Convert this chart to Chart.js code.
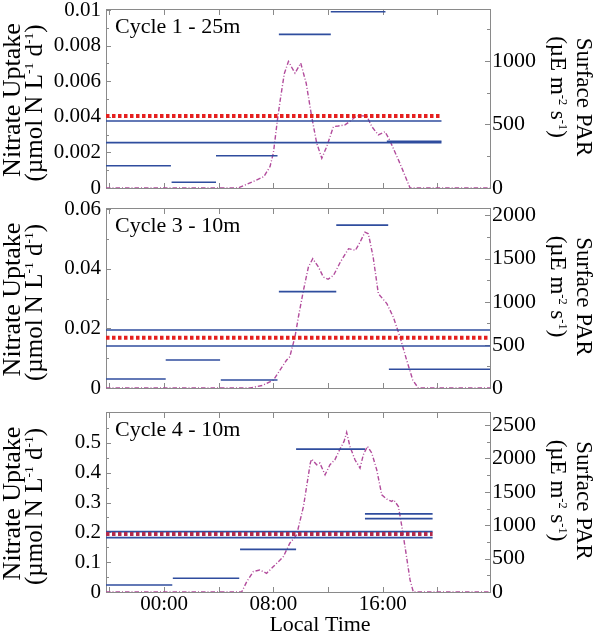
<!DOCTYPE html>
<html>
<head>
<meta charset="utf-8">
<script src="https://cdn.jsdelivr.net/npm/chart.js@4/dist/chart.umd.min.js"></script>
<style>
body { margin: 0; background: #fff; }
#wrap { position: relative; width: 595px; height: 634px; overflow: hidden; }
canvas { position: absolute; left: 0; }
</style>
</head>
<body>
<div id="wrap">
  <canvas id="c1" width="595" height="200" style="top:0px"></canvas>
  <canvas id="c2" width="595" height="205" style="top:195px"></canvas>
  <canvas id="c3" width="595" height="239" style="top:395px"></canvas>
</div>
<script>
// time axis (hours, 0 = midnight)
const timeMin = -4.25, timeMax = 23.85;
const xTicks = [-4, 0, 4, 8, 12, 16, 20];
const xLabelHours = [0, 8, 16];
const xLabels = ['00:00', '08:00', '16:00'];

// Cycle 1 - 25m
const c1Start = [-4.25, 0.55, 3.8, 8.4, 12.2, -4.25, -4.25, 16.3];
const c1End   = [0.5, 3.8, 8.3, 12.2, 16.2, 20.3, 20.3, 20.3];
const c1Val   = [0.00125, 0.00032, 0.00181, 0.00863, 0.0099, 0.00376, 0.00255, 0.00263];
const c1Mean  = [-4.25, 20.2, 0.00404];
const c1ParT  = [-4.25, 5.4, 6.5, 7.3, 7.75, 8.0, 8.3, 8.5, 8.8, 9.1, 9.58, 10.0, 10.4, 10.8, 11.17, 11.54, 11.9, 12.39, 12.75, 13.24, 13.73, 14.1, 14.83, 15.2, 15.68, 16.17, 16.5, 17.26, 18.0, 23.85];
const c1Par   = [0, 0, 50, 89, 168, 276, 540, 693, 900, 995, 903, 982, 824, 562, 352, 234, 325, 483, 488, 496, 535, 567, 567, 483, 417, 443, 378, 194, 0, 0];

// Cycle 3 - 10m
const c3Start = [-4.25, 0.12, 4.15, 8.4, 12.6, 16.45, -4.25, -4.25];
const c3End   = [0.12, 4.1, 8.3, 12.6, 16.4, 23.85, 23.85, 23.85];
const c3Val   = [0.00302, 0.00939, 0.00268, 0.0323, 0.0546, 0.00626, 0.01944, 0.01408];
const c3Mean  = [-4.25, 23.85, 0.01687];
const c3ParT  = [-4.25, 6.3, 7.2, 8.0, 8.97, 9.2, 9.58, 9.83, 10.2, 10.56, 10.88, 11.3, 11.65, 12.0, 12.4, 12.9, 13.5, 14.0, 14.34, 14.7, 14.95, 15.3, 15.68, 16.3, 16.77, 17.26, 17.75, 18.2, 18.6, 23.85];
const c3Par   = [0, 0, 30, 92, 324, 362, 593, 824, 1133, 1402, 1499, 1402, 1287, 1260, 1306, 1460, 1615, 1595, 1691, 1807, 1788, 1518, 1094, 979, 824, 593, 324, 92, 0, 0];

// Cycle 4 - 10m
const c4Start = [-4.25, 0.64, 5.56, 9.66, 14.7, 14.7, -4.25, -4.25];
const c4End   = [0.6, 5.5, 9.66, 14.7, 19.65, 19.65, 19.65, 19.65];
const c4Val   = [0.0235, 0.046, 0.143, 0.479, 0.262, 0.246, 0.2023, 0.1822];
const c4Mean  = [-4.25, 19.65, 0.1946];
const c4ParT  = [-4.25, 5.68, 6.05, 6.53, 7.0, 7.5, 8.0, 8.73, 9.2, 9.7, 10.2, 10.7, 10.8, 11.17, 11.4, 11.78, 12.14, 12.5, 12.87, 13.17, 13.36, 13.6, 13.97, 14.34, 14.58, 14.88, 15.2, 15.56, 15.93, 16.3, 16.66, 16.8, 17.15, 17.4, 17.63, 18.0, 18.24, 23.85];
const c4Par   = [0, 0, 155, 305, 330, 280, 380, 530, 730, 855, 1280, 1930, 1990, 1905, 1930, 1755, 1905, 1980, 2140, 2255, 2390, 2180, 1980, 1855, 2055, 2180, 2080, 1830, 1455, 1390, 1355, 1380, 1280, 980, 680, 180, 0, 0];

const BLUE = '#2f4d9e';
const MAG = '#b24c9c';
const FONT = '"Liberation Serif", "Times New Roman", serif';
const SUP = 0.54;

function rich(ctx, parts, cx, cy, rot, size) {
  ctx.save();
  ctx.translate(cx, cy);
  ctx.rotate(rot);
  ctx.fillStyle = '#000';
  ctx.textBaseline = 'alphabetic';
  ctx.textAlign = 'left';
  let w = 0;
  parts.forEach(p => { ctx.font = (p.s ? size * SUP : size) + 'px ' + FONT; w += ctx.measureText(p.t).width; });
  let x = -w / 2;
  parts.forEach(p => {
    ctx.font = (p.s ? size * SUP : size) + 'px ' + FONT;
    ctx.fillText(p.t, x, p.s ? -size * 0.36 : 0);
    x += ctx.measureText(p.t).width;
  });
  ctx.restore();
}

const deco = {
  id: 'deco',
  beforeDatasetsDraw(chart, args, o) {
    const ctx = chart.ctx, a = chart.chartArea;
    const sx = chart.scales.x, sy = chart.scales.y, sr = chart.scales.y2;
    ctx.save();
    ctx.strokeStyle = '#8a8a8a';
    ctx.lineWidth = 1;
    ctx.strokeRect(Math.round(a.left) + 0.5, Math.round(a.top) - 0.5, Math.round(a.right - a.left), Math.round(a.bottom - a.top) + 1);
    ctx.beginPath();
    xTicks.forEach(t => {
      const px = Math.round(sx.getPixelForValue(t)) + 0.5;
      ctx.moveTo(px, a.bottom); ctx.lineTo(px, a.bottom - 5);
      ctx.moveTo(px, a.top); ctx.lineTo(px, a.top + 5);
    });
    const yt = (scale, vals, len, left) => vals.forEach(v => {
      const py = Math.round(scale.getPixelForValue(v)) + 0.5;
      if (left) { ctx.moveTo(a.left, py); ctx.lineTo(a.left + len, py); }
      else { ctx.moveTo(a.right, py); ctx.lineTo(a.right - len, py); }
    });
    yt(sy, o.leftTicks, 5, true);
    yt(sy, o.leftMinor, 3, true);
    yt(sr, o.rightTicks, 5, false);
    yt(sr, o.rightMinor, 3, false);
    ctx.stroke();
    ctx.restore();
  },
  afterDraw(chart, args, o) {
    const ctx = chart.ctx, a = chart.chartArea;
    const cy = (a.top + a.bottom) / 2;
    rich(ctx, [{ t: 'Nitrate Uptake' }], 20, cy + 1, -Math.PI / 2, 26);
    rich(ctx, [{ t: '(µmol N L' }, { t: '-1', s: 1 }, { t: ' d' }, { t: '-1', s: 1 }, { t: ')' }], 42, cy + 4, -Math.PI / 2, 25);
    rich(ctx, [{ t: 'Surface PAR' }], 577, cy - 2, Math.PI / 2, 23);
    rich(ctx, [{ t: '(µE m' }, { t: '-2', s: 1 }, { t: ' s' }, { t: '-1', s: 1 }, { t: ')' }], 551, cy - 12, Math.PI / 2, 23);

    ctx.save();
    ctx.fillStyle = '#000';
    ctx.font = '22px ' + FONT;
    ctx.textBaseline = 'alphabetic';
    ctx.fillText(o.cycle, a.left + 9, a.top + 23);
    if (o.xTitle) {
      ctx.textAlign = 'center';
      ctx.fillText('Local Time', 320, 236);
    }
    ctx.restore();
  }
};

function numLabel(v) { return String(+Number(v).toFixed(6)); }

function panel(id, p) {
  const segs = p.start.map((s, i) => ({
    data: [{ x: s, y: p.val[i] }, { x: p.end[i], y: p.val[i] }],
    borderColor: BLUE, borderWidth: 1.6, pointRadius: 0, yAxisID: 'y'
  }));
  const mean = {
    data: [{ x: p.mean[0], y: p.mean[2] }, { x: p.mean[1], y: p.mean[2] }],
    borderColor: p.meanColor, borderWidth: 4, borderDash: [3.5, 2.5], borderCapStyle: 'butt',
    pointRadius: 0, yAxisID: 'y'
  };
  const par = {
    data: p.parT.map((t, i) => ({ x: t, y: p.par[i] })),
    borderColor: MAG, borderWidth: 1.4, borderDash: [4.5, 2, 1, 2], pointRadius: 0, yAxisID: 'y2'
  };
  new Chart(document.getElementById(id), {
    type: 'line',
    data: { datasets: [mean].concat(segs, [par]) },
    plugins: [deco],
    options: {
      responsive: false,
      animation: false,
      events: [],
      layout: { padding: { left: 0, right: 0, top: p.top, bottom: 0 } },
      plugins: {
        legend: { display: false },
        tooltip: { enabled: false },
        deco: { cycle: p.cycle, leftTicks: p.leftTicks, leftMinor: p.leftMinor, rightTicks: p.rightTicks, rightMinor: p.rightMinor, xTitle: p.xTitle }
      },
      scales: {
        x: {
          type: 'linear', min: timeMin, max: timeMax,
          afterBuildTicks: s => { s.ticks = xTicks.map(v => ({ value: v })); },
          ticks: {
            display: p.showX, autoSkip: false, maxRotation: 0, padding: 0, color: '#000',
            font: { family: FONT, size: 21 },
            callback: v => { const k = xLabelHours.indexOf(v); return k < 0 ? '' : xLabels[k]; }
          },
          grid: { display: false, drawTicks: false },
          border: { display: false },
          afterFit: s => { s.height = p.xH; s.paddingLeft = 0; s.paddingRight = 0; }
        },
        y: {
          position: 'left', min: 0, max: p.leftMax,
          afterBuildTicks: s => { s.ticks = p.leftTicks.map(v => ({ value: v })); },
          ticks: { padding: 5, color: '#000', font: { family: FONT, size: 21 }, callback: numLabel },
          grid: { display: false, drawTicks: false },
          border: { display: false },
          afterFit: s => { s.width = 106; s.paddingTop = 0; s.paddingBottom = 0; }
        },
        y2: {
          position: 'right', min: 0, max: p.rightMax,
          afterBuildTicks: s => { s.ticks = p.rightTicks.map(v => ({ value: v })); },
          ticks: { padding: 2, color: '#000', font: { family: FONT, size: 22 }, callback: numLabel },
          grid: { display: false, drawTicks: false },
          border: { display: false },
          afterFit: s => { s.width = 105; s.paddingTop = 0; s.paddingBottom = 0; }
        }
      }
    }
  });
}

panel('c1', {
  start: c1Start, end: c1End, val: c1Val, mean: c1Mean, meanColor: '#e5201f',
  parT: c1ParT, par: c1Par, cycle: 'Cycle 1 - 25m',
  leftMax: 0.01, leftTicks: [0, 0.002, 0.004, 0.006, 0.008, 0.01], leftMinor: [0.001, 0.003, 0.005, 0.007, 0.009],
  rightMax: 1400, rightTicks: [0, 500, 1000], rightMinor: [250, 750, 1250],
  top: 10, xH: 12, showX: false, xTitle: false
});
panel('c2', {
  start: c3Start, end: c3End, val: c3Val, mean: c3Mean, meanColor: '#e5201f',
  parT: c3ParT, par: c3Par, cycle: 'Cycle 3 - 10m',
  leftMax: 0.06, leftTicks: [0, 0.02, 0.04, 0.06], leftMinor: [0.01, 0.03, 0.05],
  rightMax: 2075, rightTicks: [0, 500, 1000, 1500, 2000], rightMinor: [250, 750, 1250, 1750],
  top: 14, xH: 12, showX: false, xTitle: false
});
panel('c3', {
  start: c4Start, end: c4End, val: c4Val, mean: c4Mean, meanColor: '#b22a4c',
  parT: c4ParT, par: c4Par, cycle: 'Cycle 4 - 10m',
  leftMax: 0.6, leftTicks: [0, 0.1, 0.2, 0.3, 0.4, 0.5], leftMinor: [0.05, 0.15, 0.25, 0.35, 0.45, 0.55],
  rightMax: 2680, rightTicks: [0, 500, 1000, 1500, 2000, 2500], rightMinor: [250, 750, 1250, 1750, 2250],
  top: 18, xH: 42, showX: true, xTitle: true
});
</script>
</body>
</html>
